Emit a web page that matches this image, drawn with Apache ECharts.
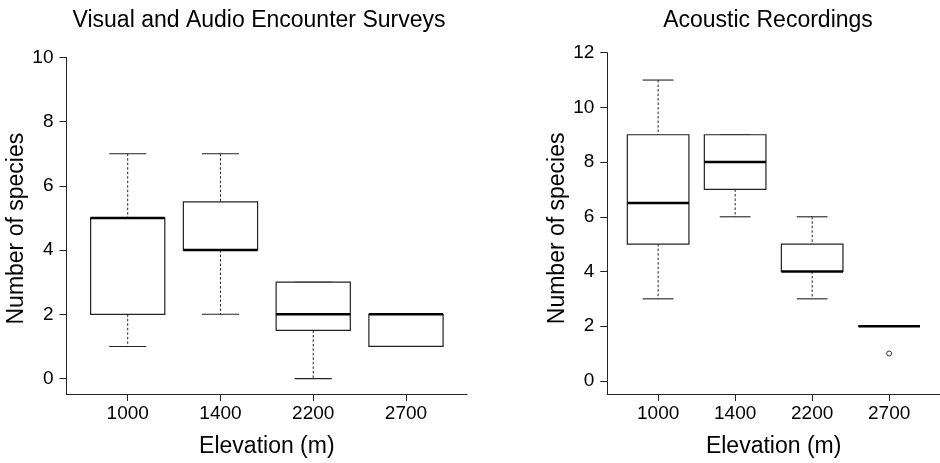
<!DOCTYPE html>
<html>
<head>
<meta charset="utf-8">
<title>Number of species by elevation</title>
<script src="https://cdn.jsdelivr.net/npm/echarts@6/dist/echarts.min.js"></script>
<style>
  html, body { margin: 0; padding: 0; background: #fff; }
  #chart { width: 940px; height: 463px; }
</style>
</head>
<body>
<div id="chart"></div>
<script>
// Elevation categories (m)
const elevations = ['1000', '1400', '2200', '2700'];

// Visual and audio encounter surveys: five-number summaries per elevation
const vaesLow  = [1, 2, 0, 1];
const vaesQ1   = [2, 4, 1.5, 1];
const vaesMed  = [5, 4, 2, 2];
const vaesQ3   = [5, 5.5, 3, 2];
const vaesHigh = [7, 7, 3, 2];

// Acoustic recordings: five-number summaries per elevation
const arLow  = [3, 6, 3, 2];
const arQ1   = [5, 7, 4, 2];
const arMed  = [6.5, 8, 4, 2];
const arQ3   = [9, 9, 5, 2];
const arHigh = [11, 9, 6, 2];

// Acoustic recordings: outliers (elevation index, value)
const arOutlierIdx = [3];
const arOutlierVal = [1];

// Tick labels
const vaesTicks = [0, 2, 4, 6, 8, 10];
const arTicks = [0, 2, 4, 6, 8, 10, 12];
const catPositions = [1, 2, 3, 4];

const FONT = "'Liberation Sans', Arial, Helvetica, sans-serif";
const BOX_WEX = 0.8;

function boxRows(low, q1, med, q3, high) {
  return elevations.map((_, i) => [i + 1, low[i], q1[i], med[i], q3[i], high[i]]);
}

// Box-and-whisker glyph: dashed whiskers, staples, white box, heavy median bar
function renderBox(params, api) {
  const x = api.value(0);
  const pLow = api.coord([x, api.value(1)]);
  const pQ1 = api.coord([x, api.value(2)]);
  const pMed = api.coord([x, api.value(3)]);
  const pQ3 = api.coord([x, api.value(4)]);
  const pHigh = api.coord([x, api.value(5)]);
  const half = api.size([BOX_WEX, 0])[0] / 2;
  const capHalf = half / 2;
  const cx = pMed[0];
  const whisker = { stroke: '#222', lineWidth: 1, lineDash: [2.5, 2] };
  const solid = { stroke: '#222', lineWidth: 1.1 };
  const children = [];
  if (pHigh[1] < pQ3[1]) {
    children.push({ type: 'line', shape: { x1: cx, y1: pHigh[1], x2: cx, y2: pQ3[1] }, style: whisker });
  }
  if (pLow[1] > pQ1[1]) {
    children.push({ type: 'line', shape: { x1: cx, y1: pQ1[1], x2: cx, y2: pLow[1] }, style: whisker });
  }
  children.push({ type: 'line', shape: { x1: cx - capHalf, y1: pHigh[1], x2: cx + capHalf, y2: pHigh[1] }, style: solid });
  children.push({ type: 'line', shape: { x1: cx - capHalf, y1: pLow[1], x2: cx + capHalf, y2: pLow[1] }, style: solid });
  children.push({
    type: 'rect',
    shape: { x: cx - half, y: pQ3[1], width: 2 * half, height: pQ1[1] - pQ3[1] },
    style: { fill: '#fff', stroke: '#222', lineWidth: 1.2 }
  });
  children.push({ type: 'line', shape: { x1: cx - half, y1: pMed[1], x2: cx + half, y2: pMed[1] }, style: { stroke: '#000', lineWidth: 2.5 } });
  return { type: 'group', children };
}

function xAxisFor(gridIndex) {
  return {
    type: 'value', gridIndex, min: 0.34, max: 4.66,
    name: 'Elevation (m)', nameLocation: 'middle', nameGap: 41,
    nameTextStyle: { fontFamily: FONT, fontSize: 23, color: '#000' },
    axisLine: { show: true, onZero: false, lineStyle: { color: '#222', width: 1 } },
    axisTick: { show: true, length: 7, customValues: catPositions, lineStyle: { color: '#222' } },
    axisLabel: {
      customValues: catPositions, margin: 10,
      fontFamily: FONT, fontSize: 19, color: '#000',
      formatter: v => elevations[Math.round(v) - 1]
    },
    splitLine: { show: false }
  };
}

function yAxisFor(gridIndex, max, ticks, gap, namePad) {
  return {
    type: 'value', gridIndex, min: -0.48, max,
    name: 'Number of species', nameLocation: 'middle', nameGap: gap,
    nameTextStyle: { fontFamily: FONT, fontSize: 23, color: '#000', padding: [0, namePad, 0, 0] },
    axisLine: { show: true, onZero: false, lineStyle: { color: '#222', width: 1 } },
    axisTick: { show: true, length: 7, customValues: ticks, lineStyle: { color: '#222' } },
    axisLabel: { customValues: ticks, margin: 13, fontFamily: FONT, fontSize: 19, color: '#000' },
    splitLine: { show: false }
  };
}

const chart = echarts.init(document.getElementById('chart'), null, { renderer: 'canvas' });

chart.setOption({
  animation: false,
  backgroundColor: '#fff',
  title: [
    { text: 'Visual and Audio Encounter Surveys', left: 254, top: 4, textAlign: 'center',
      textStyle: { fontFamily: FONT, fontSize: 23, fontWeight: 'normal', color: '#000' } },
    { text: 'Acoustic Recordings', left: 763, top: 4, textAlign: 'center',
      textStyle: { fontFamily: FONT, fontSize: 23, fontWeight: 'normal', color: '#000' } }
  ],
  grid: [
    { left: 66.5, top: 57.3, width: 400.7, height: 337.2 },
    { left: 607.3, top: 52.7, width: 344.2, height: 342.3 }
  ],
  xAxis: [xAxisFor(0), xAxisFor(1)],
  yAxis: [yAxisFor(0, 10, vaesTicks, 36, 6), yAxisFor(1, 12, arTicks, 36, 10)],
  series: [
    {
      name: 'Visual and Audio Encounter Surveys', type: 'custom',
      xAxisIndex: 0, yAxisIndex: 0,
      renderItem: renderBox,
      encode: { x: 0, y: [1, 2, 3, 4, 5] },
      data: boxRows(vaesLow, vaesQ1, vaesMed, vaesQ3, vaesHigh)
    },
    {
      name: 'Acoustic Recordings', type: 'custom',
      xAxisIndex: 1, yAxisIndex: 1,
      renderItem: renderBox,
      encode: { x: 0, y: [1, 2, 3, 4, 5] },
      data: boxRows(arLow, arQ1, arMed, arQ3, arHigh)
    },
    {
      name: 'Acoustic Recordings outliers', type: 'scatter',
      xAxisIndex: 1, yAxisIndex: 1,
      symbol: 'circle', symbolSize: 5,
      itemStyle: { color: '#fff', borderColor: '#000', borderWidth: 1 },
      data: arOutlierIdx.map((idx, i) => [idx + 1, arOutlierVal[i]])
    }
  ]
});
</script>
</body>
</html>
